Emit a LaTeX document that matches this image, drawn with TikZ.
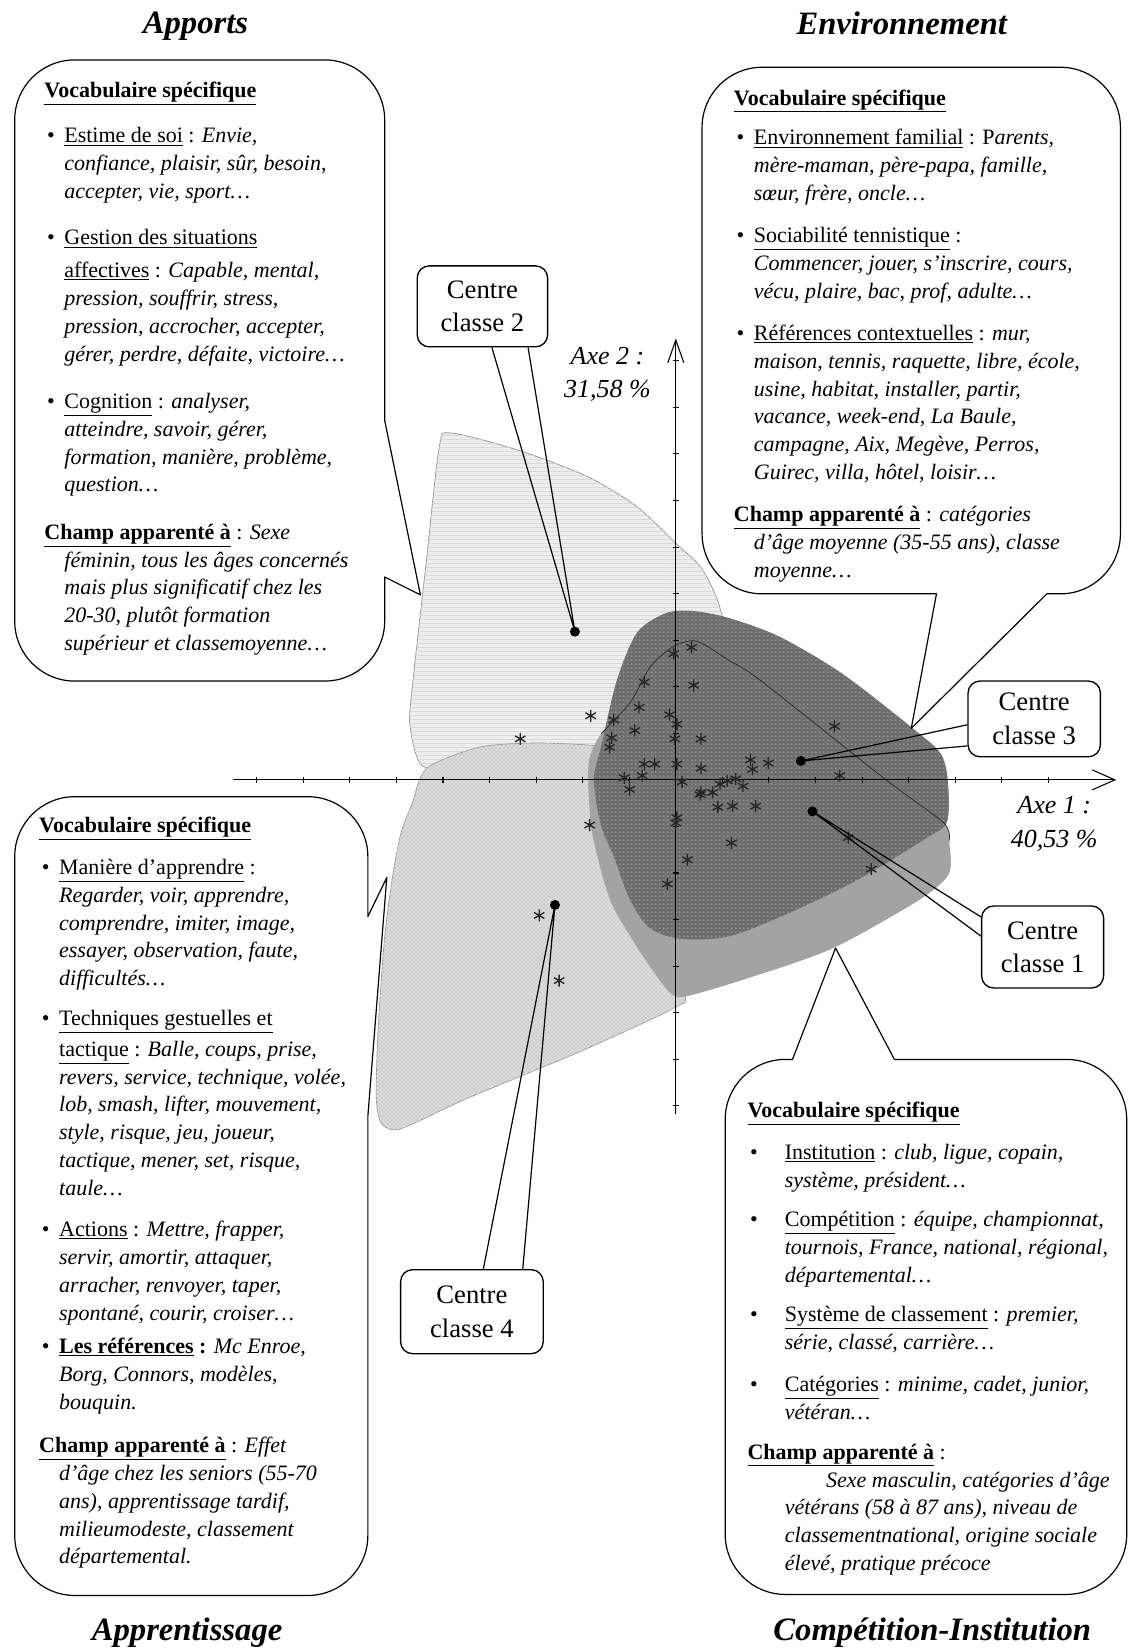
\documentclass[tikz,border=0pt]{standalone}
\usepackage{fontspec}
\setmainfont{Liberation Serif}
\usetikzlibrary{patterns,arrows.meta,plotmarks}

\definecolor{clair}{gray}{0.93}
\definecolor{vague}{gray}{0.87}
\definecolor{moyen}{gray}{0.64}
\definecolor{fonce}{gray}{0.43}

\newcommand{\puce}[1][15pt]{\makebox[#1][l]{\hspace{2pt}\textbullet}}
\newcommand{\retrait}[1][15pt]{\hspace*{#1}}

\begin{document}
\begin{tikzpicture}[x=0.7884pt, y=-0.7884pt,
  bulle/.style={draw, line width=0.9pt, line join=round},
  bloc/.style={anchor=north west, inner sep=0pt, align=left, font=\fontsize{16.5}{20.9}\selectfont},
  titre/.style={font=\fontsize{24.5}{28}\selectfont\bfseries\itshape},
  cadre/.style={draw, fill=white, line width=1pt, rounded corners=9pt, align=center, inner sep=2pt, font=\fontsize{20}{25}\selectfont},
  barycentre/.style={circle, fill=black, inner sep=0pt, minimum size=7.5pt},
  fleche/.style={line width=0.9pt, line join=round},
  axe/.style={line width=0.8pt},
  axelabel/.style={align=center, font=\fontsize{19.5}{25}\selectfont\itshape},
  classe2/.style={fill=clair, draw=gray!80, line width=0.6pt, postaction={pattern=horizontal lines, pattern color=gray!30}},
  classe4/.style={fill=vague, draw=gray!80, line width=0.6pt, postaction={pattern=crosshatch, pattern color=gray!40}},
  classe1/.style={fill=moyen},
  classe3/.style={fill=fonce, postaction={pattern=dots, pattern color=gray!55}},
  etoile/.style={line width=1pt, black!85},
]
\useasboundingbox (0,0) rectangle (1074,1568);

% zones des classes
\filldraw[classe2] plot[smooth cycle, tension=0.45] coordinates {(418,425) (429,412) (492,428) (558,453) (606,482) (643,517) (667,540) (684,575) (690,620) (660,690) (560,716) (440,724) (402,729) (390,690) (393,647) (405,540)};
\filldraw[classe4] plot[smooth cycle, tension=0.45] coordinates {(406,731) (456,711) (510,707) (573,710) (635,720) (652,800) (652,940) (645,957) (560,997) (505,1020) (440,1047) (381,1074) (363,1069) (358,1043) (360,976) (366,892) (374,831) (382,791) (392,765)};
\fill[classe1] plot[smooth cycle, tension=0.45] coordinates {(600,668) (619,634) (641,615) (663,610) (693,628) (723,647) (843,742) (898,783) (903,800) (903,831) (875,856) (793,902) (717,929) (653,948) (638,945) (620,922) (601,893) (580,855) (563,790) (560,727) (572,698)};
\fill[classe3] plot[smooth cycle, tension=0.5] coordinates {(587,647) (606,602) (632,584) (655,581) (690,587) (740,605) (800,640) (866,691) (895,717) (902,745) (901,782) (882,797) (816,837) (750,869) (693,891) (646,893) (617,882) (598,853) (584,815) (572,786) (565,742) (572,710)};
\draw[gray!30!black, line width=0.5pt] plot[smooth, tension=0.45] coordinates {(572,698) (600,668) (619,634) (641,615) (663,610) (693,628) (723,647) (843,742) (898,783) (903,800)};

% axes
\coordinate (xg) at (222,742);
\coordinate (xd) at (1062,742);
\coordinate (yb) at (643,1060);
\coordinate (yh) at (643,322);
\draw[axe, -{Straight Barb[length=17pt,width=15pt]}] (xg) -- (xd);
\draw[axe, -{Straight Barb[length=17pt,width=12pt]}] (yb) -- (yh);
\foreach \k in {-9,...,8} \draw[axe] (643+44.3*\k,739) -- ++(0,6);
\foreach \k in {-9,...,7} \draw[axe] (640,742+44.3*\k) -- ++(6,0);

\draw[etoile] plot[only marks, mark=asterisk, mark size=4.5pt] coordinates {(613,649) (660,652) (641,622) (658,616) (562,681) (495,703) (584,685) (608,673) (637,680) (644,689) (604,695) (582,702) (580,711) (642,703) (667,703) (714,723) (731,726) (716,732) (613,727) (623,727) (644,727) (667,731) (594,740) (611,738) (599,751) (649,744) (667,754) (678,754) (685,746) (692,743) (700,741) (707,748) (794,691) (799,738) (666,756) (683,768) (697,767) (719,767) (644,778) (643,783) (561,785) (696,802) (807,797) (654,818) (829,827) (635,841) (513,871) (532,933)};

\node[axelabel] (ax2) at (578,356) {Axe 2 :\\31,58~\%};
\node[axelabel] (ax1) at (1003,784) {Axe 1 :\\40,53~\%};

% centres de classe
\node[name=g1, barycentre] at (773,772) {};
\node[name=g2, barycentre] at (547,601) {};
\node[name=g3, barycentre] at (762,724) {};
\node[name=g4, barycentre] at (528,861) {};

\node[name=c2, cadre, minimum width=97.8pt, minimum height=60.7pt] at (459,291.5) {Centre\\classe 2};
\node[name=c3, cadre, minimum width=99.3pt, minimum height=56.8pt] at (984,684) {Centre\\classe 3};
\node[name=c1, cadre, minimum width=91.5pt, minimum height=61.5pt] at (992,901) {Centre\\classe 1};
\node[name=c4, cadre, minimum width=107pt, minimum height=63pt] at (449,1248) {Centre\\classe 4};

\draw[fleche] (c2.283) -- (g2.center) -- (c2.318);
\draw[fleche] (c3.185) -- (g3.center) -- (c3.202);
\draw[fleche] (c1.154) -- (g1.center) -- (c1.170);
\draw[fleche] (c4.75) -- (g4.center) -- (c4.40);

% bulles
\draw[bulle] (366,549) [rounded corners=45pt] -- (366,648) -- (14,648) -- (14,57) -- (366,57) [sharp corners] -- (366,400) -- (400,566) -- cycle;
\draw[bulle] (891,565) [rounded corners=45pt] -- (668,565) -- (668,64) -- (1066,64) -- (1066,565) [sharp corners] -- (996,565) -- (867,693) -- cycle;
\draw[bulle] (350,1062) [rounded corners=45pt] -- (350,1518) -- (14,1518) -- (14,758) -- (350,758) [sharp corners] -- (350,872) -- (368,835) -- cycle;
\draw[bulle] (851,1008) [rounded corners=45pt] -- (1072,1008) -- (1072,1517) -- (690,1517) -- (690,1008) [sharp corners] -- (754,1008) -- (795,902) -- cycle;

\node[titre] (tapp) at (186,25) {Apports};
\node[titre] (tenv) at (858,22) {Environnement};
\node[titre] (tapr) at (178,1553) {Apprentissage};
\node[titre] (tcom) at (887,1553) {Compétition-Institution};

\node[bloc] (vapp) at (42,78) {%
\underline{\textbf{Vocabulaire spécifique}}\\[13pt]
\puce\underline{Estime de soi} : \textit{Envie,}\\
\retrait\textit{confiance, plaisir, sûr, besoin,}\\
\retrait\textit{accepter, vie, sport…}\\[13.8pt]
\puce\underline{Gestion des situations}\\[3.5pt]
\retrait\underline{affectives} : \textit{Capable, mental,}\\
\retrait\textit{pression, souffrir, stress,}\\
\retrait\textit{pression, accrocher, accepter,}\\
\retrait\textit{gérer, perdre, défaite, victoire…}\\[14.6pt]
\puce\underline{Cognition} : \textit{analyser,}\\
\retrait\textit{atteindre, savoir, gérer,}\\
\retrait\textit{formation, manière, problème,}\\
\retrait\textit{question…}\\[14.6pt]
\underline{\textbf{Champ apparenté à}} : \textit{Sexe}\\
\retrait\textit{féminin, tous les âges concernés}\\
\retrait\textit{mais plus significatif chez les}\\
\retrait\textit{20-30, plutôt formation}\\
\retrait\textit{supérieur et classemoyenne…}};

\node[bloc] (venv) at (698,85) {%
\underline{\textbf{Vocabulaire spécifique}}\\[9pt]
\puce\underline{Environnement familial} : P\textit{arents,}\\
\retrait\textit{mère-maman, père-papa, famille,}\\
\retrait\textit{sœur, frère, oncle…}\\[10.6pt]
\puce\underline{Sociabilité tennistique} :\\
\retrait\textit{Commencer, jouer, s’inscrire, cours,}\\
\retrait\textit{vécu, plaire, bac, prof, adulte…}\\[10.6pt]
\puce\underline{Références contextuelles} : \textit{mur,}\\
\retrait\textit{maison, tennis, raquette, libre, école,}\\
\retrait\textit{usine, habitat, installer, partir,}\\
\retrait\textit{vacance, week-end, La Baule,}\\
\retrait\textit{campagne, Aix, Megève, Perros,}\\
\retrait\textit{Guirec, villa, hôtel, loisir…}\\[10.6pt]
\underline{\textbf{Champ apparenté à}} : \textit{catégories}\\
\retrait\textit{d’âge moyenne (35-55 ans), classe}\\
\retrait\textit{moyenne…}};

\node[bloc] (vapr) at (37,777) {%
\underline{\textbf{Vocabulaire spécifique}}\\[10.6pt]
\puce\underline{Manière d’apprendre} :\\
\retrait\textit{Regarder, voir, apprendre,}\\
\retrait\textit{comprendre, imiter, image,}\\
\retrait\textit{essayer, observation, faute,}\\
\retrait\textit{difficultés…}\\[9pt]
\puce\underline{Techniques gestuelles et}\\[2pt]
\retrait\underline{tactique} : \textit{Balle, coups, prise,}\\
\retrait\textit{revers, service, technique, volée,}\\
\retrait\textit{lob, smash, lifter, mouvement,}\\
\retrait\textit{style, risque, jeu, joueur,}\\
\retrait\textit{tactique, mener, set, risque,}\\
\retrait\textit{taule…}\\[9.8pt]
\puce\underline{Actions} : \textit{Mettre, frapper,}\\
\retrait\textit{servir, amortir, attaquer,}\\
\retrait\textit{arracher, renvoyer, taper,}\\
\retrait\textit{spontané, courir, croiser…}\\[4.3pt]
\puce\textbf{\underline{Les références} :} \textit{Mc Enroe,}\\
\retrait\textit{Borg, Connors, modèles,}\\
\retrait\textit{bouquin.}\\[11.4pt]
\underline{\textbf{Champ apparenté à}} : \textit{Effet}\\
\retrait\textit{d’âge chez les seniors (55-70}\\
\retrait\textit{ans), apprentissage tardif,}\\
\retrait\textit{milieumodeste, classement}\\
\retrait\textit{départemental.}};

\node[bloc] (vcom) at (711,1048) {%
\underline{\textbf{Vocabulaire spécifique}}\\[10.6pt]
\puce[28pt]\underline{Institution} : \textit{club, ligue, copain,}\\
\retrait[28pt]\textit{système, président…}\\[9pt]
\puce[28pt]\underline{Compétition} : \textit{équipe, championnat,}\\
\retrait[28pt]\textit{tournois, France, national, régional,}\\
\retrait[28pt]\textit{départemental…}\\[8.3pt]
\puce[28pt]\underline{Système de classement} : \textit{premier,}\\
\retrait[28pt]\textit{série, classé, carrière…}\\[10.6pt]
\puce[28pt]\underline{Catégories} : \textit{minime, cadet, junior,}\\
\retrait[28pt]\textit{vétéran…}\\[9pt]
\underline{\textbf{Champ apparenté à}} :\\
\retrait[59pt]\textit{Sexe masculin, catégories d’âge}\\
\retrait[28pt]\textit{vétérans (58 à 87 ans), niveau de}\\
\retrait[28pt]\textit{classementnational, origine sociale}\\
\retrait[28pt]\textit{élevé, pratique précoce}};

\end{tikzpicture}
\end{document}
